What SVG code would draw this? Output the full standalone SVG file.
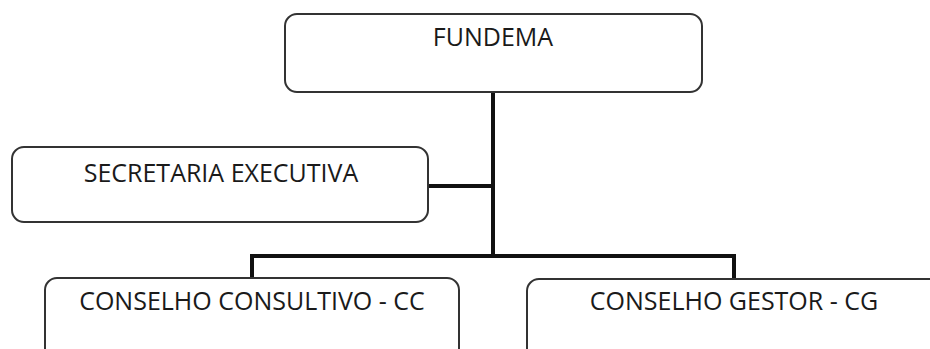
<svg xmlns="http://www.w3.org/2000/svg" width="930" height="349" viewBox="0 0 930 349">
<style>
.box{fill:#fff;stroke:#333;stroke-width:2}
.lbl{font-family:"Open Sans","Noto Sans",sans-serif;font-size:25px;fill:#1a1a1a;text-anchor:middle}
.conn{fill:none;stroke:#111;stroke-width:4}
</style>
<rect width="930" height="349" fill="#fff"/>
<g id="connectors">
<path class="conn" d="M493 92 V256"/>
<path class="conn" d="M428 186 H493"/>
<path class="conn" d="M252 278 V256 H734 V279"/>
</g>
<g id="fundema">
<rect class="box" x="285" y="14" width="417" height="78" rx="12"/>
<text class="lbl" x="493" y="46">FUNDEMA</text>
</g>
<g id="secretaria">
<rect class="box" x="12" y="147" width="416" height="75" rx="12"/>
<text class="lbl" x="221" y="182">SECRETARIA EXECUTIVA</text>
</g>
<g id="cc">
<rect class="box" x="45" y="278" width="414" height="90" rx="12"/>
<text class="lbl" x="252" y="310">CONSELHO CONSULTIVO - CC</text>
</g>
<g id="cg">
<rect class="box" x="527" y="279" width="420" height="90" rx="12"/>
<text class="lbl" x="734" y="310">CONSELHO GESTOR - CG</text>
</g>
</svg>
